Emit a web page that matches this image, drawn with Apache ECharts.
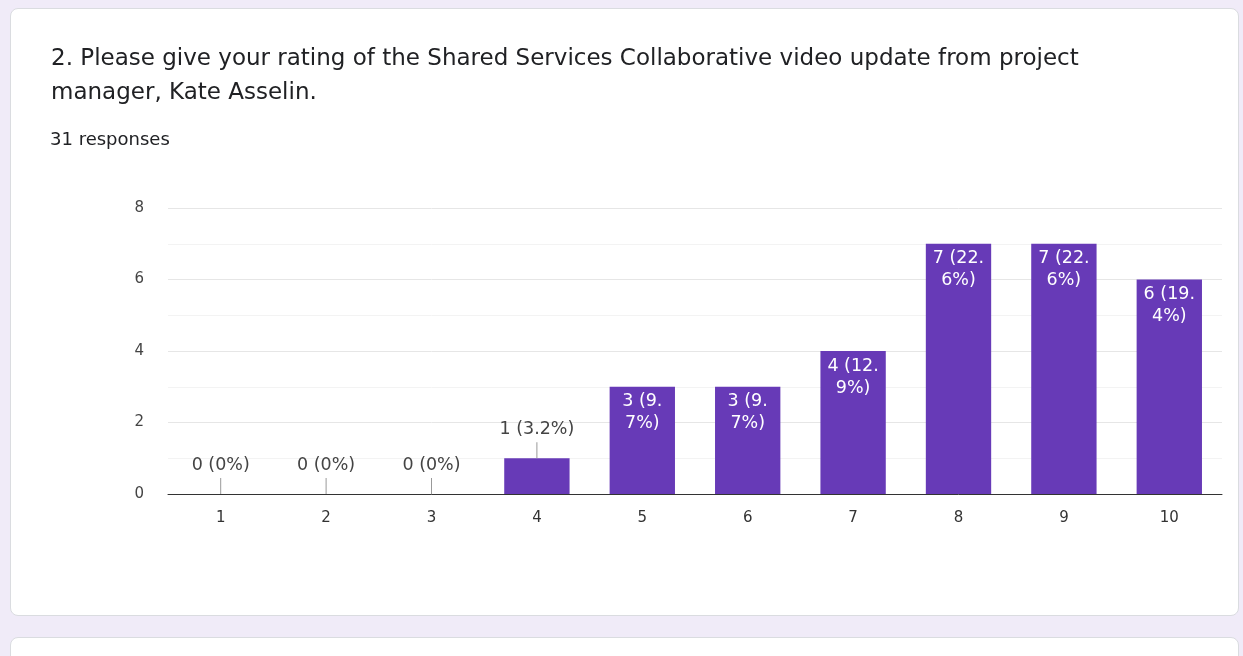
<!DOCTYPE html>
<html>
<head>
<meta charset="utf-8">
<script src="https://cdn.jsdelivr.net/npm/echarts@6/dist/echarts.min.js"></script>
<style>
  html, body { margin:0; padding:0; width:1243px; height:656px; overflow:hidden; background:#f0ebf8; }
  .card { position:absolute; background:#fff; border:1px solid #dadce0; border-radius:8px; box-sizing:border-box; }
  #chart { position:absolute; left:0; top:0; width:1243px; height:656px; }
</style>
</head>
<body>
<div class="card" style="left:10px; top:8px; width:1229px; height:608px;"></div>
<div class="card" style="left:10px; top:637px; width:1229px; height:60px;"></div>
<div id="chart"></div>
<script>
const titleLines = ['2. Please give your rating of the Shared Services Collaborative video update from project', 'manager, Kate Asselin.'];
const responsesText = '31 responses';
const categories = ['1','2','3','4','5','6','7','8','9','10'];
const counts = [0, 0, 0, 1, 3, 3, 4, 7, 7, 6];
const percentLabels = ['0%','0%','0%','3.2%','9.7%','9.7%','12.9%','22.6%','22.6%','19.4%'];
const yTicks = [0, 2, 4, 6, 8];

const barColor = '#673ab7';
const FONT = '"DejaVu Sans", Verdana, sans-serif';

const barData = counts.map(function (v, i) {
  const pct = percentLabels[i];
  if (v >= 2) {
    const parts = pct.split('.');
    return {
      value: v,
      label: {
        show: true, position: 'insideTop', distance: 4,
        color: '#ffffff', fontSize: 17.5, lineHeight: 22, fontFamily: FONT,
        formatter: v + ' (' + parts[0] + '.\n' + parts[1] + ')'
      }
    };
  }
  return {
    value: v,
    label: {
      show: true, position: 'top', distance: 20,
      color: '#444444', fontSize: 17.5, fontFamily: FONT,
      formatter: v + ' (' + pct + ')'
    }
  };
});

const leaderData = [];
counts.forEach(function (v, i) { if (v < 2) leaderData.push([i, v]); });

const chart = echarts.init(document.getElementById('chart'));
chart.setOption({
  animation: false,
  title: [
    { text: titleLines.join('\n'), left: 46, top: 37,
      textStyle: { fontFamily: FONT, fontSize: 23, fontWeight: 'normal', color: '#202124', lineHeight: 34 } },
    { text: responsesText, left: 45, top: 125,
      textStyle: { fontFamily: FONT, fontSize: 18, fontWeight: 'normal', color: '#202124', lineHeight: 20 } }
  ],
  grid: { left: 168, right: 21, top: 208, bottom: 162, containLabel: false },
  xAxis: {
    type: 'category', data: categories,
    axisLine: { show: true, lineStyle: { color: '#333333', width: 1 } },
    axisTick: { show: false },
    axisLabel: { color: '#333333', fontSize: 15, fontFamily: FONT, margin: 17 }
  },
  yAxis: {
    type: 'value', min: yTicks[0], max: yTicks[yTicks.length - 1], interval: 2,
    axisLine: { show: false }, axisTick: { show: false },
    axisLabel: { color: '#444444', fontSize: 15, fontFamily: FONT, margin: 24 },
    splitLine: { show: true, lineStyle: { color: '#e6e6e6', width: 1 } },
    minorTick: { show: false, splitNumber: 2 },
    minorSplitLine: { show: true, lineStyle: { color: '#f3f3f3', width: 1 } }
  },
  series: [
    {
      type: 'bar', data: barData, barWidth: '62%',
      itemStyle: { color: barColor },
      z: 3
    },
    {
      type: 'custom', data: leaderData, z: 4, silent: true,
      renderItem: function (params, api) {
        const p = api.coord([api.value(0), api.value(1)]);
        return { type: 'line', shape: { x1: p[0], y1: p[1], x2: p[0], y2: p[1] - 16 },
                 style: { stroke: '#999999', lineWidth: 1 } };
      }
    }
  ]
});
</script>
</body>
</html>
